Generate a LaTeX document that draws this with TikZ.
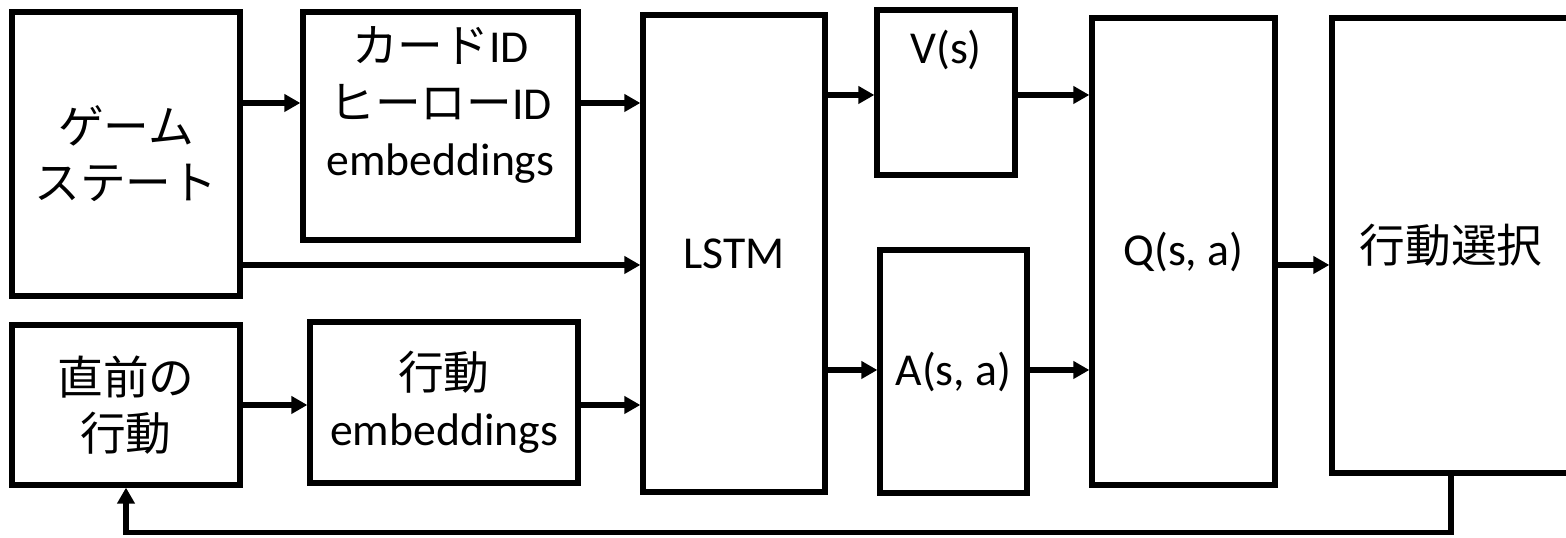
\documentclass[tikz,border=0pt]{standalone}
\usepackage{fontspec}
\setmainfont{Carlito}
\newfontfamily\jp{Noto Sans CJK JP}
\usetikzlibrary{arrows.meta}

\begin{document}
\begin{tikzpicture}[
        box/.style={draw, line width=1.5pt, inner sep=0pt},
        txt/.style={align=center, font=\fontsize{13}{16}\selectfont},
        arr/.style={line width=1.5pt, -{Triangle[length=1.6mm,width=1.7mm]}}
    ]
            \useasboundingbox (0,0) rectangle (15.66,-5.38);
            % boxes
            \node[box, minimum width=2.28cm, minimum height=2.84cm] (game) at (1.26,-1.54) {};
            \node[box, minimum width=2.75cm, minimum height=2.28cm] (card) at (4.405,-1.26) {};
            \node[box, minimum width=2.28cm, minimum height=1.60cm] (prev) at (1.26,-4.05) {};
            \node[box, minimum width=2.68cm, minimum height=1.61cm] (actemb) at (4.44,-4.025) {};
            \node[box, minimum width=1.82cm, minimum height=4.77cm] (lstm) at (7.34,-2.535) {};
            \node[box, minimum width=1.38cm, minimum height=1.65cm] (vs) at (9.46,-0.925) {};
            \node[box, minimum width=1.47cm, minimum height=2.43cm] (as) at (9.535,-3.715) {};
            \node[box, minimum width=1.83cm, minimum height=4.67cm] (q) at (11.835,-2.515) {};
            \node[box, minimum width=2.38cm, minimum height=4.55cm] (sel) at (14.51,-2.455) {};
            % texts
            \node[txt] (game-t) at (game.center) {\jp ゲーム\\\jp ステート};
            \node[txt] (card-t) at (4.405,-1.05) {{\jp カード}ID\\{\jp ヒーロー}ID\\embeddings};
            \node[txt] (prev-t) at (prev.center) {\jp 直前の\\\jp 行動};
            \node[txt] (actemb-t) at (actemb.center) {\jp 行動\\embeddings};
            \node[txt] (lstm-t) at (lstm.center) {LSTM};
            \node[txt] (vs-t) at (9.46,-0.50) {V(s)};
            \node[txt] (as-t) at (as.center) {A(s, a)};
            \node[txt] (q-t) at (q.center) {Q(s, a)};
            \node[txt] (sel-t) at (sel.center) {\jp 行動選択};
            % arrows
            \draw[arr] (game.east |- 0,-1.03) -- (card.west |- 0,-1.03);
            \draw[arr] (card.east |- 0,-1.03) -- (lstm.west |- 0,-1.03);
            \draw[arr] (game.east |- 0,-2.65) -- (lstm.west |- 0,-2.65);
            \draw[arr] (prev.east |- 0,-4.05) -- (actemb.west |- 0,-4.05);
            \draw[arr] (actemb.east |- 0,-4.05) -- (lstm.west |- 0,-4.05);
            \draw[arr] (lstm.east |- 0,-0.95) -- (vs.west |- 0,-0.95);
            \draw[arr] (lstm.east |- 0,-3.70) -- (as.west |- 0,-3.70);
            \draw[arr] (vs.east |- 0,-0.95) -- (q.west |- 0,-0.95);
            \draw[arr] (as.east |- 0,-3.70) -- (q.west |- 0,-3.70);
            \draw[arr] (q.east |- 0,-2.65) -- (sel.west |- 0,-2.65);
            \draw[arr] (sel.south) -- ++(0,-0.57) -| (prev.south);
        \end{tikzpicture}
\end{document}
